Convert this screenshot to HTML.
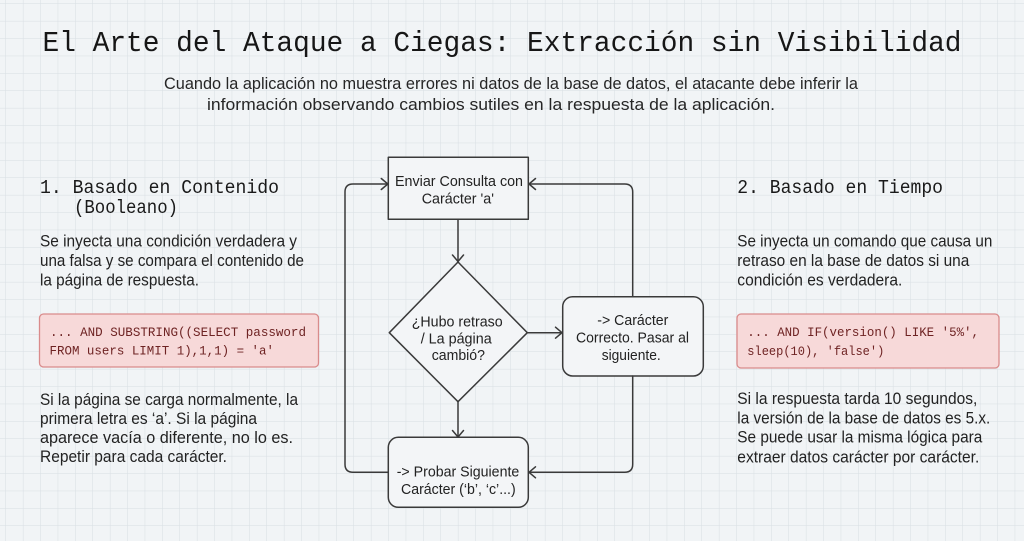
<!DOCTYPE html>
<html><head><meta charset="utf-8"><style>
html,body{margin:0;padding:0;background:#f1f4f6;}
svg{display:block;}
.mono{font-family:"Liberation Mono","DejaVu Sans Mono",monospace;}
.sans{font-family:"Liberation Sans","DejaVu Sans",sans-serif;}
</style></head><body>
<svg width="1024" height="541" viewBox="0 0 1024 541" xmlns="http://www.w3.org/2000/svg">
<defs>
<pattern id="g" patternUnits="userSpaceOnUse" x="5.5" y="3.5" width="17.4" height="17.4">
<path d="M0 0 H17.4 M0 0 V17.4" stroke="#d8dee3" stroke-width="1" fill="none"/>
</pattern>
</defs>
<rect width="1024" height="541" fill="#f1f4f6"/>
<rect width="1024" height="541" fill="url(#g)"/>

<!-- Title -->
<text class="mono" x="42.5" y="51" font-size="28.5" fill="#161616" textLength="919" lengthAdjust="spacingAndGlyphs">El Arte del Ataque a Ciegas: Extracción sin Visibilidad</text>
<g class="sans" font-size="16.5" fill="#262626">
<text x="164" y="89" textLength="694" lengthAdjust="spacingAndGlyphs">Cuando la aplicación no muestra errores ni datos de la base de datos, el atacante debe inferir la</text>
<text x="207" y="110" textLength="568" lengthAdjust="spacingAndGlyphs">información observando cambios sutiles en la respuesta de la aplicación.</text>
</g>

<!-- Headings -->
<g class="mono" font-size="19" fill="#1a1a1a">
<text x="40" y="193" textLength="239" lengthAdjust="spacingAndGlyphs">1. Basado en Contenido</text>
<text x="74" y="213" textLength="104" lengthAdjust="spacingAndGlyphs">(Booleano)</text>
<text x="737.3" y="193" textLength="205.7" lengthAdjust="spacingAndGlyphs">2. Basado en Tiempo</text>
</g>
<g class="sans" font-size="16.3" fill="#222">
<text x="40" y="246.5" textLength="257" lengthAdjust="spacingAndGlyphs">Se inyecta una condición verdadera y</text>
<text x="40" y="266" textLength="264" lengthAdjust="spacingAndGlyphs">una falsa y se compara el contenido de</text>
<text x="40" y="285.5" textLength="159" lengthAdjust="spacingAndGlyphs">la página de respuesta.</text>

<text x="40" y="405" textLength="258" lengthAdjust="spacingAndGlyphs">Si la página se carga normalmente, la</text>
<text x="40" y="424" textLength="217" lengthAdjust="spacingAndGlyphs">primera letra es ‘a’. Si la página</text>
<text x="40" y="443" textLength="253" lengthAdjust="spacingAndGlyphs">aparece vacía o diferente, no lo es.</text>
<text x="40" y="462" textLength="187" lengthAdjust="spacingAndGlyphs">Repetir para cada carácter.</text>

<text x="737.3" y="246.5" textLength="255" lengthAdjust="spacingAndGlyphs">Se inyecta un comando que causa un</text>
<text x="737.3" y="266" textLength="232" lengthAdjust="spacingAndGlyphs">retraso en la base de datos si una</text>
<text x="737.3" y="285.5" textLength="165" lengthAdjust="spacingAndGlyphs">condición es verdadera.</text>

<text x="737.3" y="404" textLength="240" lengthAdjust="spacingAndGlyphs">Si la respuesta tarda 10 segundos,</text>
<text x="737.3" y="423.3" textLength="253" lengthAdjust="spacingAndGlyphs">la versión de la base de datos es 5.x.</text>
<text x="737.3" y="442.7" textLength="245" lengthAdjust="spacingAndGlyphs">Se puede usar la misma lógica para</text>
<text x="737.3" y="462.3" textLength="242" lengthAdjust="spacingAndGlyphs">extraer datos carácter por carácter.</text>
</g>

<!-- Code boxes -->
<rect x="39.5" y="314" width="279" height="53" rx="4" fill="#f7d9d9" stroke="#d98b8b" stroke-width="1.3"/>
<rect x="737" y="314" width="262" height="54" rx="4" fill="#f7d9d9" stroke="#d98b8b" stroke-width="1.3"/>
<g class="mono" font-size="13" fill="#6e2323">
<text x="50" y="336" textLength="256" lengthAdjust="spacingAndGlyphs">... AND SUBSTRING((SELECT password</text>
<text x="49.5" y="354.5" textLength="224.5" lengthAdjust="spacingAndGlyphs">FROM users LIMIT 1),1,1) = 'a'</text>
<text x="747.3" y="336" textLength="231.7" lengthAdjust="spacingAndGlyphs">... AND IF(version() LIKE '5%',</text>
<text x="747.3" y="355" textLength="137" lengthAdjust="spacingAndGlyphs">sleep(10), 'false')</text>
</g>

<!-- Flowchart shapes -->
<g fill="none" stroke="#3a3a3a" stroke-width="1.5" stroke-linejoin="round" stroke-linecap="round">
<rect x="388.3" y="157.3" width="140" height="62" fill="#f3f5f7"/>
<polygon points="458,262 527.3,332.7 458,401.7 389.3,332.7" fill="#f3f5f7"/>
<rect x="562.7" y="296.7" width="140.6" height="79.3" rx="10" fill="#f3f5f7"/>
<rect x="388.3" y="437.3" width="140" height="70" rx="10" fill="#f3f5f7"/>

<!-- connectors -->
<path d="M458 219.3 V261.5"/>
<path d="M452.5 255 L458 261.5 L463.5 255"/>
<path d="M527.3 332.7 H562"/>
<path d="M555.5 327.2 L562 332.7 L555.5 338.2"/>
<path d="M632.7 296.7 V192 Q632.7 184 624.7 184 H529"/>
<path d="M535.5 178.5 L529 184 L535.5 189.5"/>
<path d="M632.7 376 V464.3 Q632.7 472.3 624.7 472.3 H529"/>
<path d="M535.5 466.8 L529 472.3 L535.5 477.8"/>
<path d="M458 401.7 V437"/>
<path d="M452.5 430.5 L458 437 L463.5 430.5"/>
<path d="M388.3 472.3 H353 Q345 472.3 345 464.3 V192 Q345 184 353 184 H387.8"/>
<path d="M381.3 178.5 L387.8 184 L381.3 189.5"/>
</g>

<!-- Flowchart labels -->
<g class="sans" font-size="14.8" fill="#222">
<text x="395" y="186" textLength="128" lengthAdjust="spacingAndGlyphs">Enviar Consulta con</text>
<text x="421.7" y="203.3" textLength="72.3" lengthAdjust="spacingAndGlyphs">Carácter 'a'</text>
<text x="411.7" y="326.7" textLength="91" lengthAdjust="spacingAndGlyphs">¿Hubo retraso</text>
<text x="420.7" y="343.3" textLength="71" lengthAdjust="spacingAndGlyphs">/ La página</text>
<text x="431.7" y="360" textLength="53.3" lengthAdjust="spacingAndGlyphs">cambió?</text>
<text x="597.3" y="325" textLength="71" lengthAdjust="spacingAndGlyphs">-&gt; Carácter</text>
<text x="576" y="342.7" textLength="113" lengthAdjust="spacingAndGlyphs">Correcto. Pasar al</text>
<text x="601.7" y="360" textLength="59" lengthAdjust="spacingAndGlyphs">siguiente.</text>
<text x="396.7" y="476.7" textLength="122.6" lengthAdjust="spacingAndGlyphs">-&gt; Probar Siguiente</text>
<text x="401" y="494" textLength="114.7" lengthAdjust="spacingAndGlyphs">Carácter (‘b’, ‘c’...)</text>
</g>
</svg>
</body></html>
